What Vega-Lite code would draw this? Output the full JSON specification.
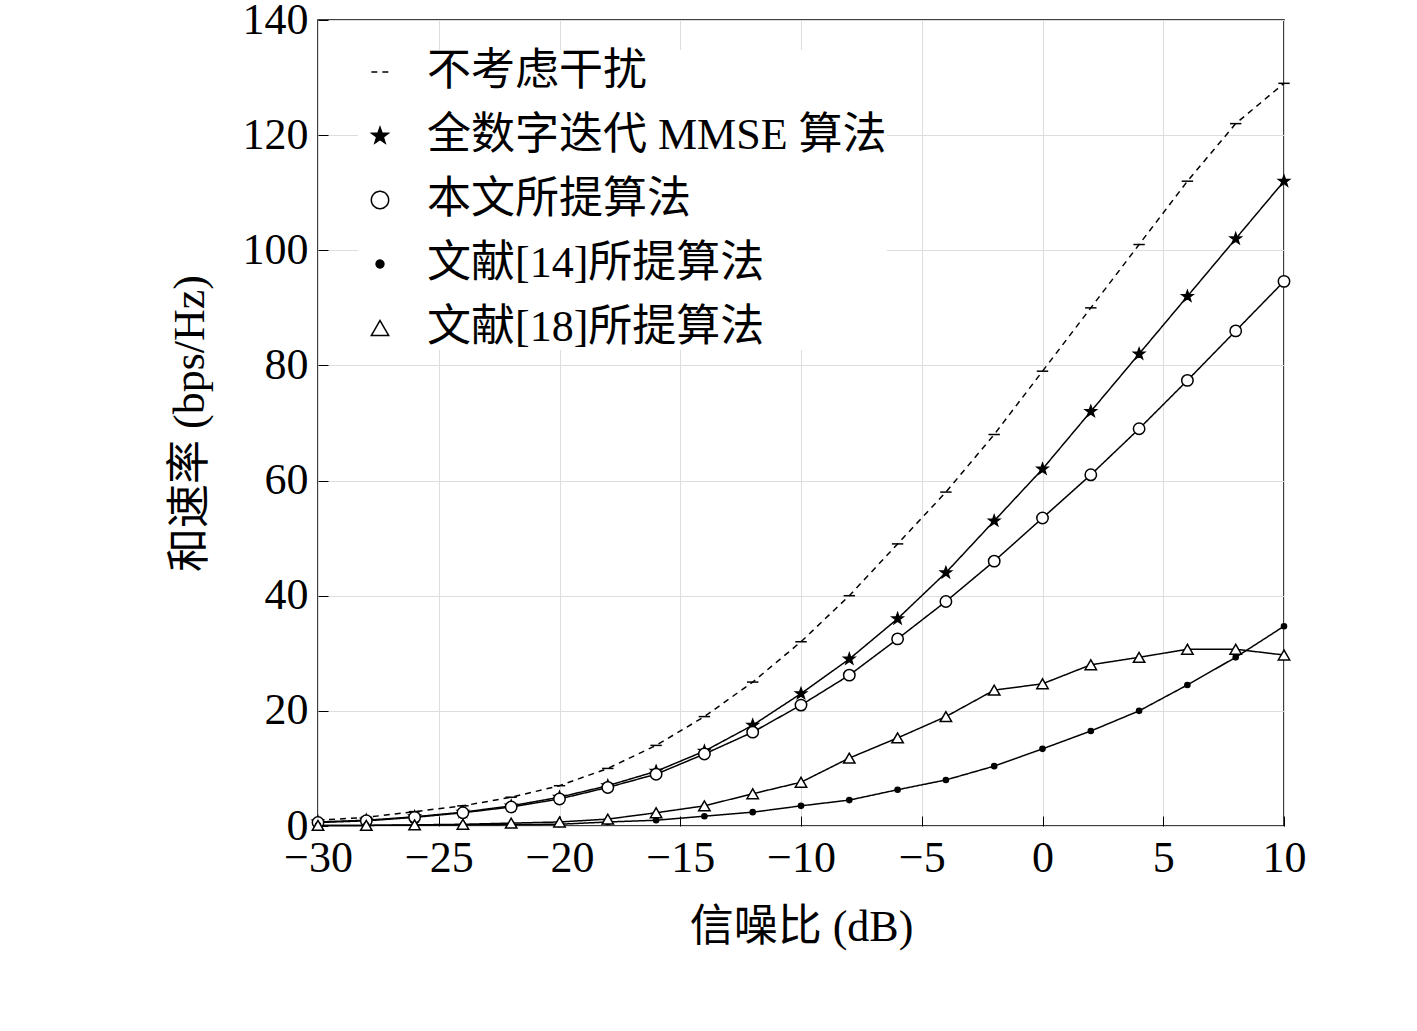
{
"$schema":"https://vega.github.io/schema/vega-lite/v6.json",
"width":966,"height":806,"autosize":{"type":"none"},
"padding":{"left":318,"top":20,"right":133,"bottom":205},
"background":"white",
"config":{"font":"Liberation Serif, Noto Sans CJK SC","view":{"stroke":"black","strokeWidth":1.5},
"axis":{"labelFontSize":44,"titleFontSize":44,"labelColor":"black","titleColor":"black","gridColor":"#dddddd","domain":false,"tickColor":"black","tickSize":-10,"labelPadding":20,"labelFlush":false,"titleFontWeight":"normal","labelFont":"Liberation Serif","titleFont":"Liberation Serif, Noto Sans CJK SC"}},
"data":{"values":[
{"x":-30,"a":1,"b":0.7,"c":0.6,"d":0.1,"e":0.1},
{"x":-28,"a":1.5,"b":1,"c":0.9,"d":0.1,"e":0.1},
{"x":-26,"a":2.5,"b":1.6,"c":1.5,"d":0.15,"e":0.2},
{"x":-24,"a":3.5,"b":2.4,"c":2.3,"d":0.2,"e":0.3},
{"x":-22,"a":5,"b":3.5,"c":3.3,"d":0.25,"e":0.5},
{"x":-20,"a":7,"b":5,"c":4.7,"d":0.3,"e":0.7},
{"x":-18,"a":10,"b":7,"c":6.7,"d":0.7,"e":1.2},
{"x":-16,"a":14,"b":9.5,"c":9,"d":1,"e":2.3},
{"x":-14,"a":19,"b":13,"c":12.5,"d":1.7,"e":3.5},
{"x":-12,"a":25,"b":17.5,"c":16.3,"d":2.4,"e":5.6},
{"x":-10,"a":32,"b":23,"c":21,"d":3.5,"e":7.6},
{"x":-8,"a":40,"b":29,"c":26.2,"d":4.5,"e":11.8},
{"x":-6,"a":49,"b":36,"c":32.5,"d":6.3,"e":15.3},
{"x":-4,"a":58,"b":44,"c":39,"d":8,"e":19},
{"x":-2,"a":68,"b":53,"c":46,"d":10.4,"e":23.6},
{"x":0,"a":79,"b":62,"c":53.5,"d":13.4,"e":24.7},
{"x":2,"a":90,"b":72,"c":61,"d":16.5,"e":28},
{"x":4,"a":101,"b":82,"c":69,"d":20,"e":29.3},
{"x":6,"a":112,"b":92,"c":77.4,"d":24.5,"e":30.7},
{"x":8,"a":122,"b":102,"c":86,"d":29.3,"e":30.7},
{"x":10,"a":129,"b":112,"c":94.6,"d":34.7,"e":29.7}
]},
"transform":[
{"fold":["a","b","c","d","e"],"as":["k","y"]},
{"lookup":"k","from":{"data":{"values":[
{"k":"a","s":"不考虑干扰"},{"k":"b","s":"全数字迭代 MMSE 算法"},{"k":"c","s":"本文所提算法"},{"k":"d","s":"文献[14]所提算法"},{"k":"e","s":"文献[18]所提算法"}]},"key":"k","fields":["s"]}}
],
"encoding":{
"x":{"field":"x","type":"quantitative","scale":{"domain":[-30,10],"nice":false},"axis":{"values":[-30,-25,-20,-15,-10,-5,0,5,10],"title":"信噪比 (dB)","titlePadding":25}},
"y":{"field":"y","type":"quantitative","scale":{"domain":[0,140],"nice":false},"axis":{"values":[0,20,40,60,80,100,120,140],"title":"和速率 (bps/Hz)","titlePadding":30}}
},
"layer":[
{"mark":{"type":"line","color":"black","strokeWidth":1.5},
"encoding":{"strokeDash":{"field":"s","type":"nominal","sort":null,"title":null,
"scale":{"domain":["不考虑干扰","全数字迭代 MMSE 算法","本文所提算法","文献[14]所提算法","文献[18]所提算法"],"range":[[6,5],[1,0],[1,0],[1,0],[1,0]]},
"legend":{"orient":"none","legendX":40,"legendY":30,"labelFontSize":44,"labelLimit":0,"labelFont":"Liberation Serif, Noto Sans CJK SC","symbolSize":300,"symbolStrokeWidth":1.5,"rowPadding":20,"symbolStrokeColor":"black","labelColor":"black","labelOffset":25,"fillColor":"white"}}}},
{"mark":{"type":"point","color":"black","strokeWidth":1.5,"opacity":1,"size":130},
"encoding":{
"shape":{"field":"s","type":"nominal","sort":null,"title":null,
"scale":{"domain":["不考虑干扰","全数字迭代 MMSE 算法","本文所提算法","文献[14]所提算法","文献[18]所提算法"],
"range":["stroke","M0,-1L0.24,-0.33L0.95,-0.31L0.38,0.12L0.59,0.81L0,0.4L-0.59,0.81L-0.38,0.12L-0.95,-0.31L-0.24,-0.33Z","circle","M-0.45,0A0.45,0.45 0 1,0 0.45,0A0.45,0.45 0 1,0 -0.45,0Z","triangle-up"]}},
"fill":{"field":"s","type":"nominal","title":null,"scale":{"domain":["不考虑干扰","全数字迭代 MMSE 算法","本文所提算法","文献[14]所提算法","文献[18]所提算法"],"range":["black","black","white","black","white"]}}
}}
]
}
